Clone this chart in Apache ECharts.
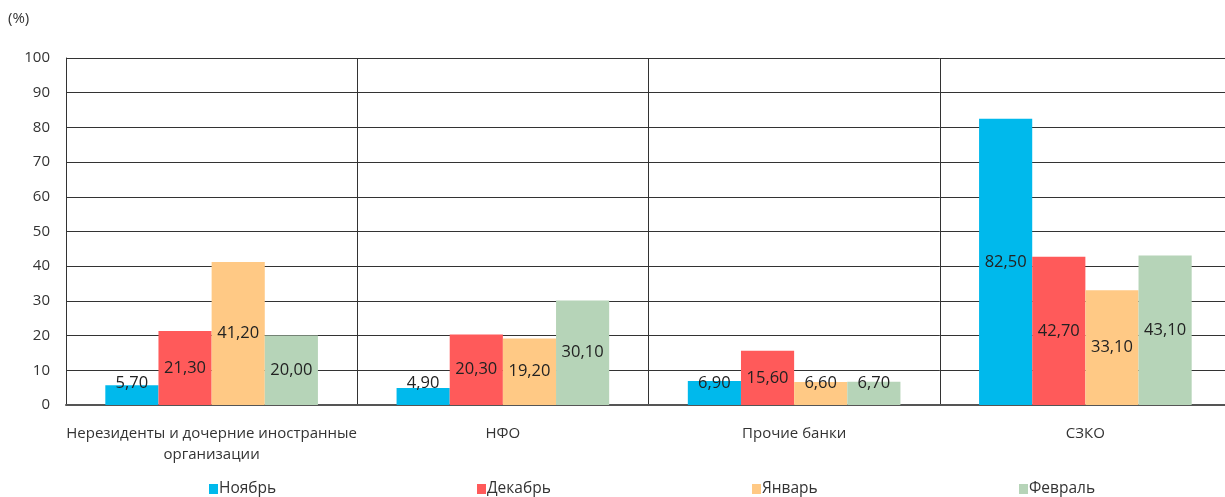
<!DOCTYPE html>
<html>
<head>
<meta charset="utf-8">
<script src="https://cdn.jsdelivr.net/npm/echarts@6/dist/echarts.min.js"></script>
<style>
  html, body { margin: 0; padding: 0; background: #fff; overflow: hidden; }
  #chart { width: 1240px; height: 497px; }
</style>
</head>
<body>
<div id="chart"></div>
<script>
// Categories of counterparties
const categories = ['Нерезиденты и дочерние иностранные\nорганизации', 'НФО', 'Прочие банки', 'СЗКО'];
// Monthly shares, %
const months = ['Ноябрь', 'Декабрь', 'Январь', 'Февраль'];
const novValues = [5.70, 4.90, 6.90, 82.50];
const decValues = [21.30, 20.30, 15.60, 42.70];
const janValues = [41.20, 19.20, 6.60, 33.10];
const febValues = [20.00, 30.10, 6.70, 43.10];
const yTicks = [0, 10, 20, 30, 40, 50, 60, 70, 80, 90, 100];

const colors = ['#00B9EC', '#FF5A5A', '#FFC985', '#B6D4B8'];
const FONT = '"Open Sans", sans-serif';

const chart = echarts.init(document.getElementById('chart'), null, { renderer: 'canvas' });

function fmt(v) { return v.toFixed(2).replace('.', ','); }

// Short bars get their label lifted to sit over the bar top
function toData(arr) {
  return arr.map(v => v < 10
    ? { value: v, label: { position: 'insideBottom', distance: 13 } }
    : { value: v });
}

const seriesValues = [novValues, decValues, janValues, febValues];
const series = seriesValues.map((vals, i) => ({
  name: months[i],
  type: 'bar',
  data: toData(vals),
  barGap: '0%',
  barCategoryGap: '27%',
  itemStyle: { color: colors[i] },
  label: {
    show: true,
    position: 'inside',
    formatter: p => fmt(p.value),
    color: '#222',
    fontFamily: FONT,
    fontSize: 16.5
  }
}));

const legendX = [209, 477, 752, 1019];
const legends = months.map((m, i) => ({
  data: [m],
  left: legendX[i],
  top: 481,
  itemWidth: 9,
  itemHeight: 10,
  itemGap: 0,
  icon: 'rect',
  padding: 0,
  textStyle: { color: '#333', fontFamily: FONT, fontSize: 15.5, padding: [0, 0, 0, -4] }
}));

chart.setOption({
  backgroundColor: '#fff',
  animation: false,
  graphic: [{
    type: 'text',
    left: 8,
    top: 11,
    style: { text: '(%)', fill: '#333', font: '15px ' + FONT }
  }],
  legend: legends,
  // plot area runs a few pixels past the visible right edge
  grid: { left: 66, right: 9, top: 58, bottom: 92, containLabel: false },
  xAxis: {
    type: 'category',
    data: categories,
    axisTick: { show: false },
    axisLine: { show: true, lineStyle: { color: '#555', width: 2 } },
    splitLine: { show: true, lineStyle: { color: '#333', width: 1 } },
    axisLabel: {
      color: '#333',
      fontFamily: FONT,
      fontSize: 15,
      lineHeight: 21,
      margin: 18,
      interval: 0
    }
  },
  yAxis: {
    type: 'value',
    min: yTicks[0],
    max: yTicks[yTicks.length - 1],
    interval: 10,
    axisLine: { show: true, lineStyle: { color: '#333', width: 1 } },
    axisTick: { show: false },
    splitLine: { show: true, lineStyle: { color: '#333', width: 1 } },
    axisLabel: {
      color: '#333',
      fontFamily: FONT,
      fontSize: 15,
      margin: 16
    }
  },
  series: series
});
</script>
</body>
</html>
